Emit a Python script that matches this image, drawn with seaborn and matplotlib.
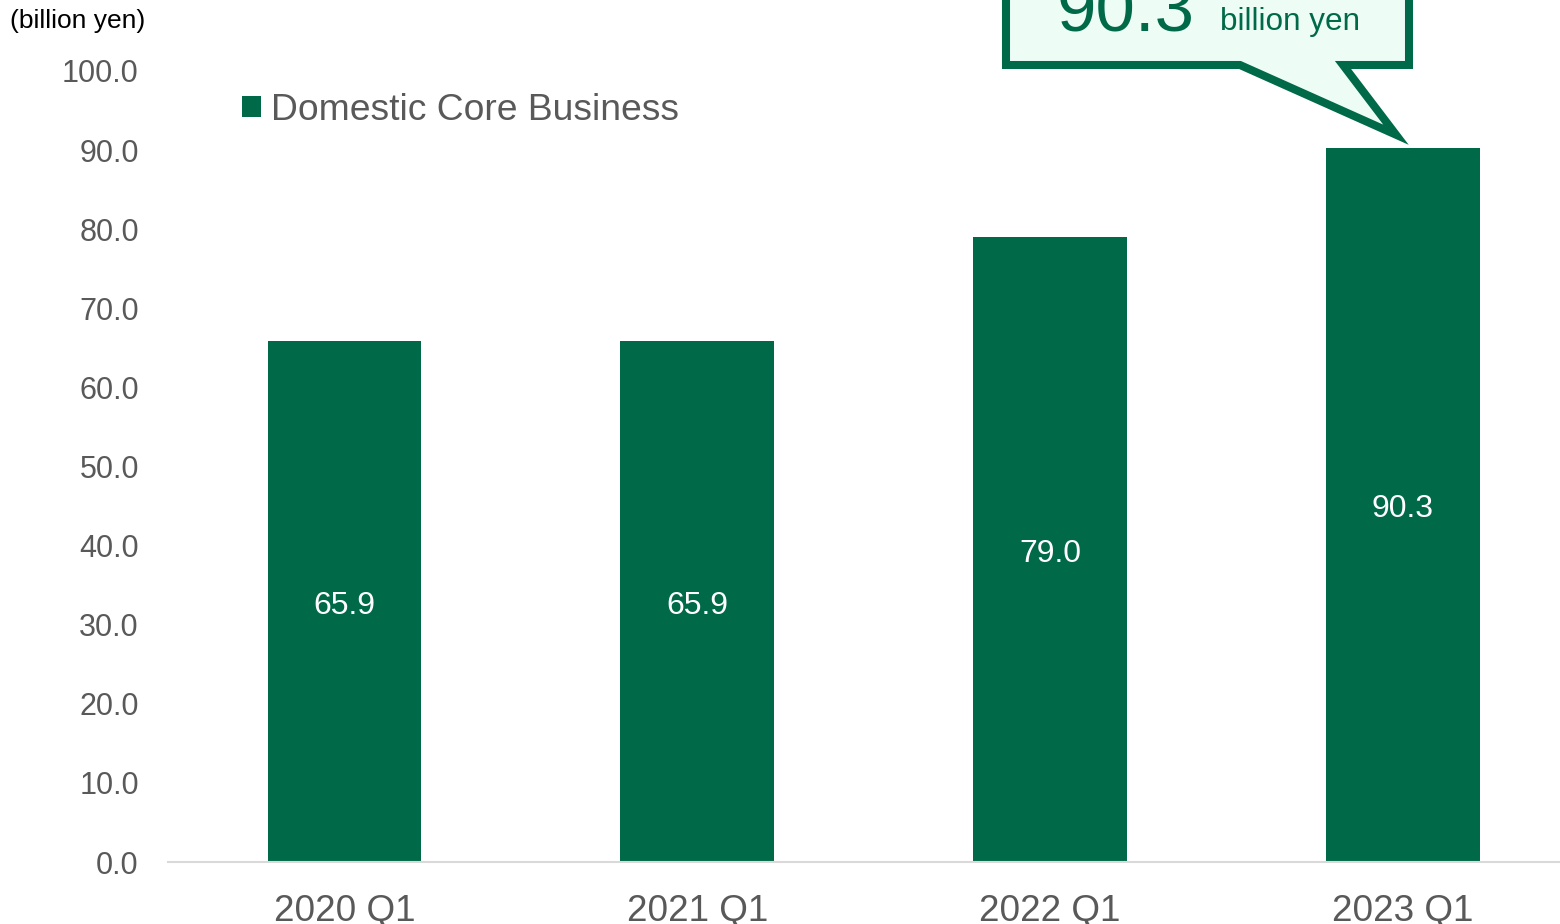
import matplotlib
matplotlib.use("Agg")
import matplotlib.pyplot as plt
from matplotlib.patches import Polygon
import pandas as pd
import seaborn as sns

# Quarterly revenue, Domestic Core Business (billion yen)
categories = ["2020 Q1", "2021 Q1", "2022 Q1", "2023 Q1"]
values = [65.9, 65.9, 79.0, 90.3]
series_name = "Domestic Core Business"
y_ticks = [0, 10, 20, 30, 40, 50, 60, 70, 80, 90, 100]

GREEN = "#006948"
MINT = "#EDFDF6"
GREY = "#595959"

sns.set_theme(style="white")
plt.rcParams["font.family"] = ["Liberation Sans", "DejaVu Sans"]

W, H = 1560, 924
fig = plt.figure(figsize=(W / 100, H / 100), dpi=100)
ax = fig.add_axes([168 / W, (H - 862) / H, (W - 168) / W, (862 - 71) / H])

df = pd.DataFrame({"quarter": categories, "value": values, "series": series_name})
sns.barplot(data=df, x="quarter", y="value", hue="series", palette=[GREEN],
            width=0.436, saturation=1, dodge=False, linewidth=0, ax=ax)

ax.set_xlim(-0.5, 3.445)
ax.set_ylim(0, 100)
ax.set_yticks(y_ticks)
ax.set_yticklabels([f"{t:.1f}" for t in y_ticks])
ax.set_xlabel("")
ax.set_ylabel("")
ax.tick_params(axis="y", length=0, pad=21, labelsize=22, labelcolor=GREY)
ax.tick_params(axis="x", length=0, pad=23, labelsize=26.6, labelcolor=GREY)
for side in ("top", "right", "left"):
    ax.spines[side].set_visible(False)
ax.spines["bottom"].set_color("#D9D9D9")
ax.spines["bottom"].set_linewidth(1.5)
ax.grid(False)

# Value labels centred inside each bar
for bar, v in zip(ax.containers[0], values):
    ax.annotate(f"{v:.1f}", (bar.get_x() + bar.get_width() / 2, v / 2),
                xytext=(0, -3), textcoords="offset points",
                ha="center", va="center", color="white", fontsize=23)

# Legend with a small square swatch
handles, labels = ax.get_legend_handles_labels()
ax.legend(handles, labels, loc="center left",
          bbox_to_anchor=(242 / W, (H - 110) / H), bbox_transform=fig.transFigure,
          frameon=False, fontsize=26.8, labelcolor=GREY,
          handlelength=0.5, handleheight=0.5, handletextpad=0.28,
          borderpad=0, borderaxespad=0)

# Unit label
fig.text(10 / W, (H - 21) / H, "(billion yen)", fontsize=19, color="black",
         ha="left", va="center")

# Speech-bubble callout pointing at the latest bar
tip_x, tip_y = ax.transData.transform((len(values) - 1, values[-1]))
tip_x -= 7
tip_y += 13
box_left, box_right = 1006, 1409
box_bottom = H - 65
box_top = H + 30
pts = [
    (box_left, box_top),
    (box_left, box_bottom),
    (1240, box_bottom),
    (tip_x, tip_y),
    (1343, box_bottom),
    (box_right, box_bottom),
    (box_right, box_top),
]
pts = [(px / W, py / H) for px, py in pts]
bubble = Polygon(pts, closed=True, facecolor=MINT, edgecolor=GREEN,
                 linewidth=5.8, joinstyle="miter", transform=fig.transFigure,
                 clip_on=False, zorder=5)
fig.patches.append(bubble)

fig.text(1057 / W, (H - 31) / H, f"{values[-1]:.1f}", fontsize=51, color=GREEN,
         ha="left", va="baseline", zorder=6)
fig.text(1220 / W, (H - 30) / H, "billion yen", fontsize=22.7, color=GREEN,
         ha="left", va="baseline", zorder=6)

fig.savefig("out.png", dpi=100)
